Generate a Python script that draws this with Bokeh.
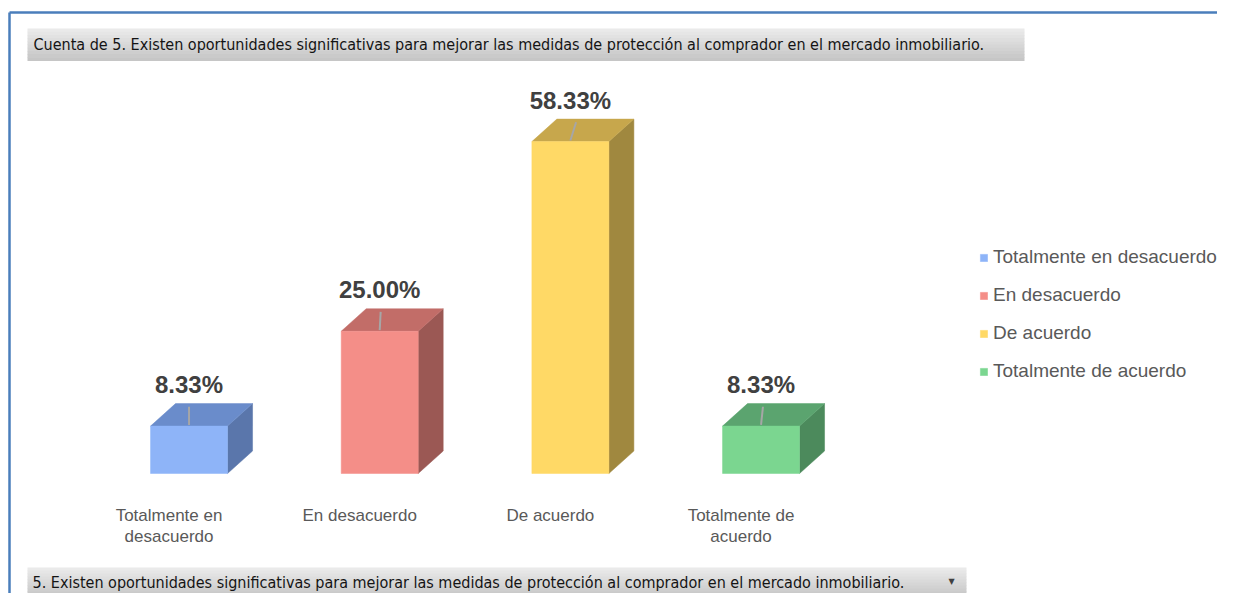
from bokeh.plotting import figure
from bokeh.models import Range1d, Label, BoxAnnotation, Legend, LegendItem, ColumnDataSource
from bokeh.core.properties import value
from bokeh.embed import file_html
from bokeh.resources import INLINE

# ---------------- data ----------------
categories = ["Totalmente en desacuerdo", "En desacuerdo", "De acuerdo", "Totalmente de acuerdo"]
axis_labels = ["Totalmente en\ndesacuerdo", "En desacuerdo", "De acuerdo", "Totalmente de\nacuerdo"]
percentages = [8.33, 25.00, 58.33, 8.33]
front_colors = ["#8EB4F8", "#F48E88", "#FFD966", "#7BD690"]
top_colors = ["#6A8CCB", "#C26D68", "#C7A74C", "#5BA46F"]
side_colors = ["#5A76AB", "#9B5854", "#A0883F", "#4C8A5C"]
title_text = "Cuenta de 5. Existen oportunidades significativas para mejorar las medidas de protección al comprador en el mercado inmobiliario."
field_text = "5. Existen oportunidades significativas para mejorar las medidas de protección al comprador en el mercado inmobiliario."

# ---------------- geometry ----------------
W, H = 1217, 593
SLOT_PX = 190.67          # px per category slot
X0_PX = 93.2              # canvas px of x = 0
PX_PER_PCT = 5.69         # px per percent
BASE_PX = 473.0           # canvas px of y = 0

def px2x(px):
    return (px - X0_PX) / SLOT_PX

def px2y(py):
    return (BASE_PX - py) / PX_PER_PCT

BAR_W = 77 / SLOT_PX
DX = 25 / SLOT_PX
DY = 22.5 / PX_PER_PCT

p = figure(width=W, height=H, output_backend="svg", toolbar_location=None,
           x_range=Range1d(px2x(0), px2x(W)), y_range=Range1d(px2y(H), px2y(0)),
           min_border=0, background_fill_color="white", border_fill_color="white")
p.axis.visible = False
p.grid.visible = False
p.outline_line_color = None

# outer frame (top and left edges of the chart container)
p.segment(x0=[px2x(9), px2x(9)], y0=[px2y(12), px2y(12)],
          x1=[px2x(W + 40), px2x(9)], y1=[px2y(12), px2y(H + 40)],
          line_color="#4A7EBB", line_width=2.5)

# gradient gray boxes
def gradient_box(l, r, t, b, c_top, c_bot, n=10):
    for k in range(n):
        f = k / (n - 1)
        col = tuple(int(round(c_top[j] + (c_bot[j] - c_top[j]) * f)) for j in range(3))
        hexc = "#%02X%02X%02X" % col
        y0 = t + (b - t) * k / n
        y1 = t + (b - t) * (k + 1) / n
        p.add_layout(BoxAnnotation(left=px2x(l), right=px2x(r), top=px2y(y0), bottom=px2y(y1 + 0.5),
                                   fill_color=hexc, fill_alpha=1, line_color=None))

gradient_box(27, 1024, 28, 60, (234, 234, 234), (198, 198, 198))
gradient_box(27, 966, 567, 597, (234, 234, 234), (198, 198, 198))

narrow = "'Liberation Sans Narrow', 'DejaVu Sans Condensed', 'Arial Narrow', sans-serif"
p.add_layout(Label(x=px2x(33), y=px2y(44), text=title_text, text_font=narrow, text_font_size="16px",
                   text_color="#141414", text_baseline="middle", text_align="left"))
p.add_layout(Label(x=px2x(32), y=px2y(582), text=field_text, text_font=narrow, text_font_size="16px",
                   text_color="#141414", text_baseline="middle", text_align="left"))
p.add_layout(Label(x=px2x(951), y=px2y(581), text="▼", text_font="DejaVu Sans", text_font_size="8px",
                   text_color="#404040", text_baseline="middle", text_align="center"))

# ---------------- bars ----------------
n = len(percentages)
centers = [i + 0.5 for i in range(n)]
lefts = [c - BAR_W / 2 for c in centers]
rights = [c + BAR_W / 2 for c in centers]

side_src = ColumnDataSource(dict(
    xs=[[r, r + DX, r + DX, r] for r in rights],
    ys=[[0, DY, v + DY, v] for v in percentages],
    color=side_colors))
top_src = ColumnDataSource(dict(
    xs=[[l, r, r + DX, l + DX] for l, r in zip(lefts, rights)],
    ys=[[v, v, v + DY, v + DY] for v in percentages],
    color=top_colors))
front_src = ColumnDataSource(dict(x=centers, top=percentages, color=front_colors, cat=categories))

p.patches("xs", "ys", source=side_src, fill_color="color", line_color="color", line_width=0.5)
p.patches("xs", "ys", source=top_src, fill_color="color", line_color="color", line_width=0.5)
front = p.vbar(x="x", top="top", bottom=0, width=BAR_W, source=front_src,
               fill_color="color", line_color="color", line_width=0.5)

# leader lines and value labels
lean = [0.0, 0.005, 0.03, 0.01]
p.segment(x0=centers, y0=[v + 0.2 for v in percentages],
          x1=[c + d for c, d in zip(centers, lean)], y1=[v + 3.4 for v in percentages],
          line_color="#A6A6A6", line_width=2)
p.text(x=centers, y=[v + 7.3 for v in percentages], text=["%.2f%%" % v for v in percentages],
       text_font=value("Liberation Sans"), text_font_style="bold", text_font_size="24px",
       text_color="#404040", text_align="center", text_baseline="middle")

# category labels
p.text(x=[c - 20 / SLOT_PX for c in centers], y=[px2y(505)] * n, text=axis_labels,
       text_font=value("Liberation Sans"), text_font_size="17px", text_color="#595959",
       text_align="center", text_baseline="top", text_line_height=1.15)

# legend
legend = Legend(items=[LegendItem(label=c, renderers=[front], index=i) for i, c in enumerate(categories)],
                location=(979, 211), orientation="vertical",
                glyph_width=9, glyph_height=9, label_standoff=5, spacing=16, padding=0, margin=0,
                label_text_font="Liberation Sans", label_text_font_size="19px",
                label_text_color="#595959", label_height=22,
                border_line_color=None, background_fill_alpha=0)
p.add_layout(legend)

open("out.html", "w").write(file_html(p, INLINE))
